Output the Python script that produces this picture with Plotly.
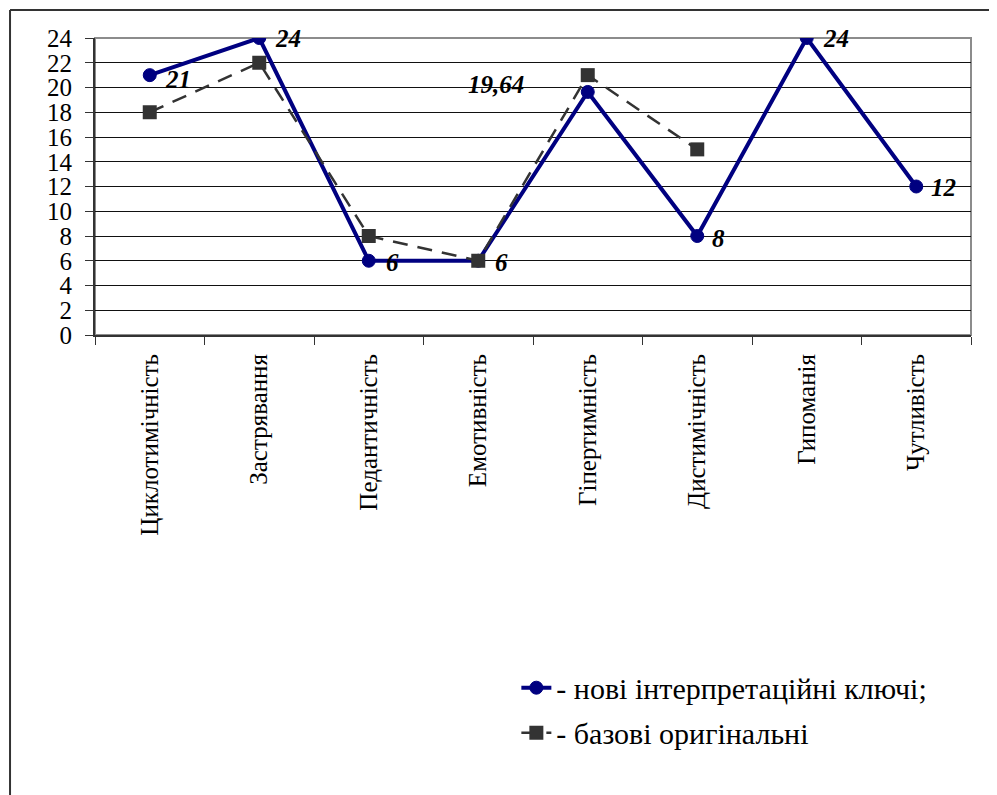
import plotly.graph_objects as go

categories = ["Циклотимічність", "Застрявання", "Педантичність", "Емотивність",
              "Гіпертимність", "Дистимічність", "Гипоманія", "Чутливість"]
new_keys = [21, 24, 6, 6, 19.64, 8, 24, 12]
base_orig = [18, 22, 8, 6, 21, 15, None, None]
new_labels = ["21", "24", "6", "6", "19,64", "8", "24", "12"]
series_names = ["- нові інтерпретаційні ключі;", "- базові оригінальні"]

FONT = "Liberation Serif"

fig = go.Figure()
fig.add_trace(go.Scatter(
    x=categories, y=new_keys, mode="lines+markers", name=series_names[0],
    legendgroup="a",
    line=dict(color="#000080", width=4),
    marker=dict(symbol="circle", size=13, color="#000080",
                line=dict(color="#000080", width=1)),
))
fig.add_trace(go.Scatter(
    x=categories, y=base_orig, mode="lines+markers", name=series_names[1],
    legendgroup="b",
    line=dict(color="#333333", width=2.5, dash="15px,10px"),
    marker=dict(symbol="square", size=14, color="#333333"),
))

# data labels for the first series
offsets = [(13, -4, "left"), (14, 0, "left"), (15, -2, "left"), (15, -2, "left"),
           (-62, 7, "right"), (13, -2, "left"), (14, 0, "left"), (13, -1, "left")]
for cat, val, lab, (dx, dy, anc) in zip(categories, new_keys, new_labels, offsets):
    fig.add_annotation(x=cat, y=val, text=lab, showarrow=False,
                       xanchor=anc, yanchor="middle", xshift=dx, yshift=dy,
                       font=dict(family=FONT, size=25, color="black",
                                 weight="bold", style="italic"))

# plot-area border (top/right grey)
fig.add_shape(type="rect", xref="paper", yref="paper", x0=0, x1=1, y0=0, y1=1,
              line=dict(color="#8c8c8c", width=2), layer="between")
# outer chart border (top and left edges visible in the frame)
fig.add_shape(type="line", xref="paper", yref="paper",
              x0=-0.097, x1=1.2, y0=1.094, y1=1.094,
              line=dict(color="#333333", width=2), layer="above")
fig.add_shape(type="line", xref="paper", yref="paper",
              x0=-0.097, x1=-0.097, y0=-2.0, y1=1.094,
              line=dict(color="#333333", width=2), layer="above")

fig.update_layout(
    width=989, height=787,
    margin=dict(l=87, r=26, t=30, b=460),
    paper_bgcolor="white", plot_bgcolor="white",
    font=dict(family=FONT, size=25, color="black"),
    showlegend=True,
    legend=dict(x=0.481, y=-1.10, xanchor="left", yanchor="top",
                font=dict(family=FONT, size=30, color="black"),
                tracegroupgap=3, bgcolor="rgba(0,0,0,0)"),
)
fig.update_xaxes(
    type="category", range=[-0.5, 7.5], tickangle=-90,
    tickson="boundaries", ticks="outside", ticklen=8, tickcolor="#333333",
    showline=True, linecolor="#333333", linewidth=2, showgrid=False,
    tickfont=dict(family=FONT, size=25, color="black"),
    ticklabelstandoff=7,
)
fig.update_yaxes(
    range=[0, 24], dtick=2, ticks="outside", ticklen=8, tickcolor="#333333",
    showline=True, linecolor="#333333", linewidth=2,
    showgrid=True, gridcolor="#111111", gridwidth=1, zeroline=False,
    tickfont=dict(family=FONT, size=25, color="black"),
    ticklabelstandoff=8,
)

fig.write_html("out.html")
